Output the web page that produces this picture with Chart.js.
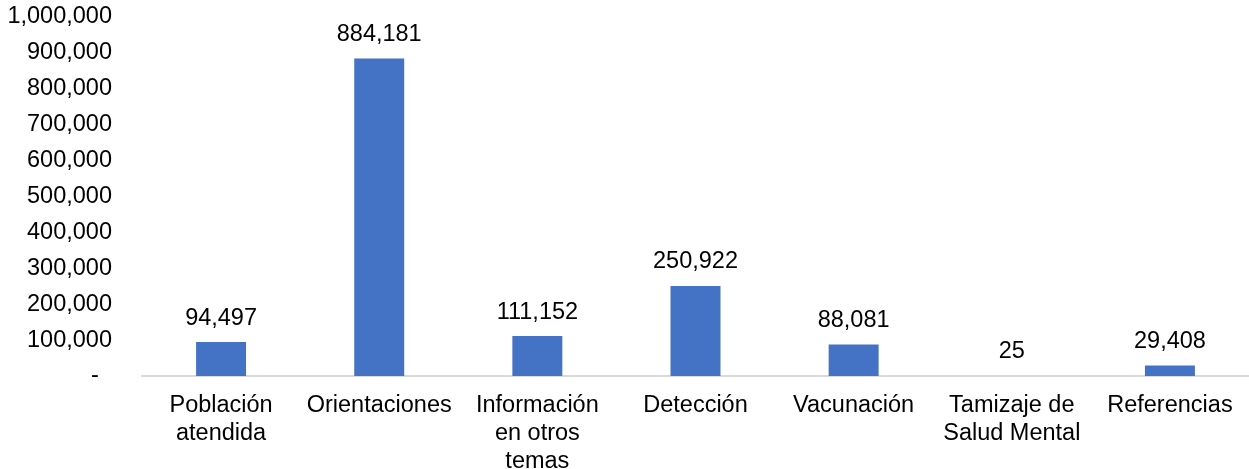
<!DOCTYPE html>
<html>
<head>
<meta charset="utf-8">
<script src="https://cdn.jsdelivr.net/npm/chart.js@4"></script>
<style>
  html, body { margin: 0; padding: 0; background: #fff; }
  #wrap { width: 1249px; height: 469px; }
</style>
</head>
<body>
<div id="wrap"><canvas id="chart"></canvas></div>
<script>
const categories = [
    ['Población', 'atendida'],
    ['Orientaciones'],
    ['Información', 'en otros', 'temas'],
    ['Detección'],
    ['Vacunación'],
    ['Tamizaje de', 'Salud Mental'],
    ['Referencias']
];
const values = [94497, 884181, 111152, 250922, 88081, 25, 29408];
const yTicks = [0, 100000, 200000, 300000, 400000, 500000, 600000, 700000, 800000, 900000, 1000000];

const fontFamily = '"Liberation Sans", Arial, sans-serif';
const fontSize = 23.5;
const fmt = v => v.toLocaleString('en-US');

// labels above each bar
const valueLabels = {
    id: 'valueLabels',
    afterDatasetsDraw(chart) {
        const ctx = chart.ctx;
        const meta = chart.getDatasetMeta(0);
        ctx.save();
        ctx.font = fontSize + 'px ' + fontFamily;
        ctx.fillStyle = '#000';
        ctx.textAlign = 'center';
        ctx.textBaseline = 'middle';
        meta.data.forEach((bar, i) => {
            ctx.fillText(fmt(values[i]), bar.x, bar.y - 24);
        });
        ctx.restore();
    }
};

new Chart(document.getElementById('chart').getContext('2d'), {
    type: 'bar',
    data: {
        labels: categories,
        datasets: [{
            data: values,
            backgroundColor: '#4472C4',
            barPercentage: 0.316,
            categoryPercentage: 1
        }]
    },
    options: {
        responsive: true,
        maintainAspectRatio: false,
        animation: false,
        layout: { padding: { top: 17, right: 0, bottom: 0, left: 0 } },
        plugins: {
            legend: { display: false },
            tooltip: { enabled: false }
        },
        scales: {
            x: {
                afterFit: scale => {
                    scale.height = 93;
                    scale.paddingLeft = 0;
                    scale.paddingRight = 0;
                },
                grid: { display: false, drawTicks: false },
                border: { display: true, color: '#d9d9d9', width: 2 },
                ticks: {
                    color: '#000',
                    padding: 15,
                    maxRotation: 0,
                    autoSkip: false,
                    font: { family: fontFamily, size: fontSize, lineHeight: 1.2 }
                }
            },
            y: {
                min: 0,
                max: 1000000,
                afterBuildTicks: scale => { scale.ticks = yTicks.map(v => ({ value: v })); },
                afterFit: scale => {
                    scale.width = 142;
                    scale.paddingTop = 0;
                    scale.paddingBottom = 0;
                },
                grid: { display: false, drawTicks: false },
                border: { display: false },
                ticks: {
                    color: '#000',
                    padding: 30,
                    font: { family: fontFamily, size: fontSize },
                    callback: v => v === 0 ? '-  ' : fmt(v)
                }
            }
        }
    },
    plugins: [valueLabels]
});
</script>
</body>
</html>
